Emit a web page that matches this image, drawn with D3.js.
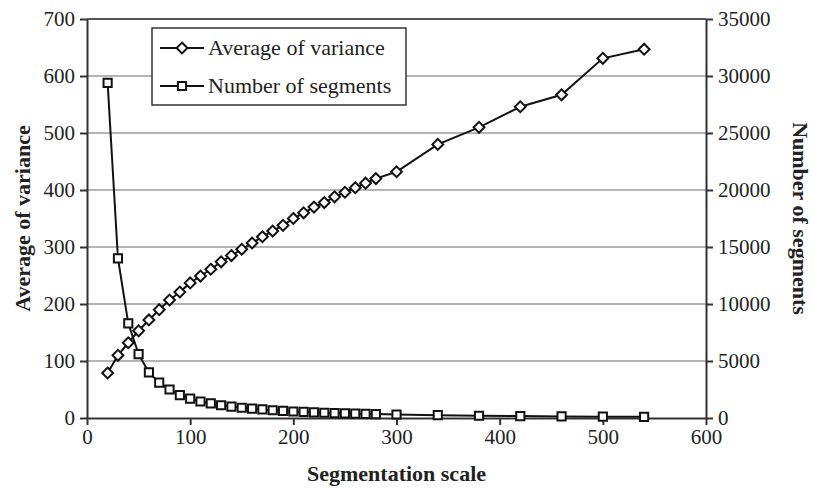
<!DOCTYPE html>
<html>
<head>
<meta charset="utf-8">
<script src="https://cdn.jsdelivr.net/npm/d3@7"></script>
<style>
  body { margin: 0; background: #fff; }
  svg text { font-family: "Liberation Serif", "Times New Roman", serif; fill: #222; }
</style>
</head>
<body>
<svg width="813" height="488"></svg>
<script>
// segmentation scale values
var scales = [20, 30, 40, 50, 60, 70, 80, 90, 100, 110, 120, 130, 140, 150, 160, 170, 180, 190, 200,
  210, 220, 230, 240, 250, 260, 270, 280, 300, 340, 380, 420, 460, 500, 540];

// average of variance (left axis)
var avgVariance = [79, 110, 132, 153, 172, 190, 207, 221, 237, 249, 261, 274, 285, 296, 307, 318, 328, 338, 350,
  360, 370, 378, 388, 396, 404, 412, 420, 432, 480, 510, 546, 567, 631, 647];

// number of segments (right axis)
var numSegments = [29400, 14000, 8300, 5600, 4000, 3100, 2500, 2000, 1700, 1450, 1280, 1120, 1000, 900, 820, 750, 680, 620, 570,
  530, 490, 460, 430, 400, 380, 360, 340, 310, 250, 200, 170, 140, 120, 100];

var xTicks = [0, 100, 200, 300, 400, 500, 600];
var leftTicks = [0, 100, 200, 300, 400, 500, 600, 700];
var rightTicks = [0, 5000, 10000, 15000, 20000, 25000, 30000, 35000];

var svg = d3.select("svg");
var plotL = 87, plotR = 706, plotT = 19, plotB = 418;

var x = d3.scaleLinear().domain([0, 600]).range([plotL, plotR]);
var yL = d3.scaleLinear().domain([0, 700]).range([plotB, plotT]);
var yR = d3.scaleLinear().domain([0, 35000]).range([plotB, plotT]);

// gridlines
svg.append("g")
  .selectAll("line")
  .data(leftTicks.filter(function(d) { return d > 0; }))
  .enter().append("line")
    .attr("x1", plotL).attr("x2", plotR)
    .attr("y1", function(d) { return yL(d); })
    .attr("y2", function(d) { return yL(d); })
    .attr("stroke", function(d) { return d == 700 ? "#555" : "#b4b4b4"; })
    .attr("stroke-width", 2);

// axes
var xAxis = svg.append("g")
    .attr("transform", "translate(0," + plotB + ")")
    .call(d3.axisBottom(x).tickValues(xTicks).tickSize(7).tickPadding(4).tickSizeOuter(0));
var lAxis = svg.append("g")
    .attr("transform", "translate(" + plotL + ",0)")
    .call(d3.axisLeft(yL).tickValues(leftTicks).tickSize(7).tickPadding(5).tickSizeOuter(0));
var rAxis = svg.append("g")
    .attr("transform", "translate(" + plotR + ",0)")
    .call(d3.axisRight(yR).tickValues(rightTicks).tickFormat(d3.format("d")).tickSize(7).tickPadding(5).tickSizeOuter(0));

[xAxis, lAxis, rAxis].forEach(function(a) {
  a.attr("font-size", 21).attr("font-family", "Liberation Serif");
  a.selectAll(".domain").attr("stroke", "#333").attr("stroke-width", 2);
  a.selectAll(".tick line").attr("stroke", "#333").attr("stroke-width", 2);
  a.selectAll("text").attr("fill", "#222");
});

// series
var data = scales.map(function(s, i) { return { s: s, v: avgVariance[i], n: numSegments[i] }; });

var lineV = d3.line().x(function(d) { return x(d.s); }).y(function(d) { return yL(d.v); });
var lineN = d3.line().x(function(d) { return x(d.s); }).y(function(d) { return yR(d.n); });

svg.append("path").datum(data)
  .attr("d", lineN).attr("fill", "none").attr("stroke", "#111").attr("stroke-width", 2);
svg.append("path").datum(data)
  .attr("d", lineV).attr("fill", "none").attr("stroke", "#111").attr("stroke-width", 2);

var diamond = d3.symbol().type(d3.symbolDiamond2).size(75);
var square = d3.symbol().type(d3.symbolSquare2).size(85);

svg.append("g").selectAll("path")
  .data(data)
  .enter().append("path")
    .attr("d", square)
    .attr("transform", function(d) { return "translate(" + x(d.s) + "," + yR(d.n) + ")"; })
    .attr("fill", "#fff").attr("stroke", "#111").attr("stroke-width", 2);

svg.append("g").selectAll("path")
  .data(data)
  .enter().append("path")
    .attr("d", diamond)
    .attr("transform", function(d) { return "translate(" + x(d.s) + "," + yL(d.v) + ")"; })
    .attr("fill", "#fff").attr("stroke", "#111").attr("stroke-width", 2);

// axis titles
svg.append("text")
  .attr("transform", "translate(30," + ((plotT + plotB) / 2) + ") rotate(-90)")
  .attr("text-anchor", "middle").attr("font-size", 22).attr("font-weight", "bold")
  .text("Average of variance");
svg.append("text")
  .attr("transform", "translate(793," + ((plotT + plotB) / 2) + ") rotate(90)")
  .attr("text-anchor", "middle").attr("font-size", 22).attr("font-weight", "bold")
  .text("Number of segments");
svg.append("text")
  .attr("x", (plotL + plotR) / 2).attr("y", 481)
  .attr("text-anchor", "middle").attr("font-size", 22).attr("font-weight", "bold")
  .text("Segmentation scale");

// legend
var legend = svg.append("g").attr("transform", "translate(152,28)");
legend.append("rect")
  .attr("width", 254).attr("height", 77)
  .attr("fill", "#fff").attr("stroke", "#333").attr("stroke-width", 1.5);
var items = [
  { label: "Average of variance", sym: diamond },
  { label: "Number of segments", sym: square }
];
items.forEach(function(it, i) {
  var gy = 20 + i * 38;
  legend.append("line").attr("x1", 8).attr("x2", 52).attr("y1", gy).attr("y2", gy)
    .attr("stroke", "#111").attr("stroke-width", 2);
  legend.append("path").attr("d", it.sym)
    .attr("transform", "translate(30," + gy + ")")
    .attr("fill", "#fff").attr("stroke", "#111").attr("stroke-width", 2);
  legend.append("text").attr("x", 56).attr("y", gy + 7)
    .attr("font-size", 22).text(it.label);
});
</script>
</body>
</html>
